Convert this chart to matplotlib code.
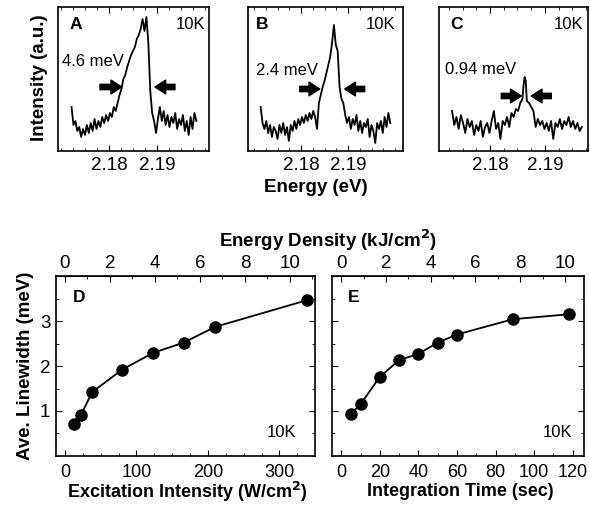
import matplotlib.pyplot as plt
from matplotlib.ticker import MultipleLocator

plt.rcParams['font.family'] = ['Liberation Sans', 'DejaVu Sans']

# --- spectra (energy in eV, intensity in arb. units) ---
energy_a = [2.1722, 2.1726, 2.1730, 2.1734, 2.1738, 2.1742, 2.1746, 2.1750, 2.1754, 2.1758,
            2.1762, 2.1766, 2.1770, 2.1774, 2.1778, 2.1782, 2.1786, 2.1790, 2.1794, 2.1798,
            2.1802, 2.1806, 2.1810, 2.1814, 2.1818, 2.1822, 2.1826, 2.1830, 2.1834, 2.1838,
            2.1842, 2.1846, 2.1850, 2.1854, 2.1858, 2.1862, 2.1866, 2.1870, 2.1874, 2.1878,
            2.1882, 2.1886, 2.1890, 2.1894, 2.1898, 2.1902, 2.1906, 2.1910, 2.1914, 2.1918,
            2.1922, 2.1926, 2.1930, 2.1934, 2.1938, 2.1942, 2.1946, 2.1950, 2.1954, 2.1958,
            2.1962, 2.1966, 2.1970, 2.1974, 2.1978, 2.1982]
counts_a = [44, 26, 30, 20, 24, 14, 22, 16, 26, 18,
            28, 20, 32, 22, 30, 24, 34, 28, 36, 30,
            38, 34, 44, 40, 48, 56, 62, 72, 76, 84,
            90, 96, 100, 104, 112, 116, 122, 132, 120, 134,
            108, 60, 38, 30, 18, 32, 44, 30, 40, 26,
            36, 24, 34, 28, 38, 22, 32, 26, 36, 20,
            30, 16, 34, 22, 38, 30]

energy_b = [2.1714, 2.1718, 2.1722, 2.1726, 2.1730, 2.1734, 2.1738, 2.1742, 2.1746, 2.1750,
            2.1754, 2.1758, 2.1762, 2.1766, 2.1770, 2.1774, 2.1778, 2.1782, 2.1786, 2.1790,
            2.1794, 2.1798, 2.1802, 2.1806, 2.1810, 2.1814, 2.1818, 2.1822, 2.1826, 2.1830,
            2.1834, 2.1838, 2.1842, 2.1846, 2.1850, 2.1854, 2.1858, 2.1862, 2.1866, 2.1870,
            2.1874, 2.1878, 2.1882, 2.1886, 2.1890, 2.1894, 2.1898, 2.1902, 2.1906, 2.1910,
            2.1914, 2.1918, 2.1922, 2.1926, 2.1930, 2.1934, 2.1938, 2.1942, 2.1946, 2.1950,
            2.1954, 2.1958, 2.1962, 2.1966, 2.1970, 2.1974, 2.1978, 2.1982, 2.1986, 2.1990]
counts_b = [44, 28, 22, 30, 18, 26, 14, 24, 20, 12,
            26, 18, 28, 16, 24, 10, 26, 20, 30, 22,
            32, 26, 34, 28, 36, 30, 38, 32, 40, 34,
            22, 48, 56, 64, 70, 78, 86, 94, 108, 126,
            106, 100, 64, 52, 48, 36, 28, 34, 22, 32,
            26, 36, 20, 30, 18, 28, 24, 32, 14, 26,
            20, 8, 28, 22, 30, 18, 34, 24, 38, 28]

energy_c = [2.1731, 2.1735, 2.1739, 2.1743, 2.1747, 2.1751, 2.1755, 2.1759, 2.1763, 2.1767,
            2.1771, 2.1775, 2.1779, 2.1783, 2.1787, 2.1791, 2.1795, 2.1799, 2.1803, 2.1807,
            2.1811, 2.1815, 2.1819, 2.1823, 2.1827, 2.1831, 2.1835, 2.1839, 2.1843, 2.1847,
            2.1851, 2.1855, 2.1859, 2.1861, 2.1863, 2.1865, 2.1867,
            2.1871, 2.1875, 2.1879, 2.1883, 2.1887, 2.1891, 2.1895, 2.1899, 2.1903, 2.1907,
            2.1911, 2.1915, 2.1919, 2.1923, 2.1927, 2.1931, 2.1935, 2.1939, 2.1943, 2.1947,
            2.1951, 2.1955, 2.1959, 2.1963, 2.1967]
counts_c = [40, 26, 34, 22, 36, 28, 18, 32, 24, 30,
            16, 26, 20, 30, 14, 24, 28, 18, 30, 40,
            22, 28, 12, 30, 26, 34, 24, 38, 34, 42,
            40, 48, 52, 66, 74, 70, 50,
            48, 44, 40, 24, 32, 26, 30, 22, 28, 20,
            30, 12, 28, 24, 32, 22, 30, 26, 34, 24,
            30, 22, 28, 20, 24]

fwhm_labels = ['4.6 meV', '2.4 meV', '0.94 meV']

# --- linewidth vs excitation / integration time ---
intensity_d = [12, 22, 38, 80, 123, 166, 210, 338]
linewidth_d = [0.70, 0.90, 1.42, 1.92, 2.29, 2.52, 2.87, 3.46]
time_e = [5, 10, 20, 30, 40, 50, 60, 89, 118]
linewidth_e = [0.94, 1.15, 1.76, 2.13, 2.27, 2.52, 2.70, 3.04, 3.15]

FS = 13.5

fig = plt.figure(figsize=(5.9, 5.07), dpi=100)

top_specs = [
    # rect, xlim, spectrum, letter, fwhm text pos, arrows (tail, head), arrow y, letter x, 10K x
    ([0.0983, 0.7022, 0.2559, 0.2840], (2.16938, 2.20083), energy_a, counts_a, 'A',
     (2.17015, 89), [(2.17813, 2.18265), (2.19375, 2.18958)], 64, 0.079, 0.973),
    ([0.4203, 0.7022, 0.2627, 0.2840], (2.1687, 2.2017), energy_b, counts_b, 'B',
     (2.17043, 80), [(2.17972, 2.18398), (2.19355, 2.18930)], 62, 0.052, 0.948),
    ([0.7441, 0.7022, 0.2525, 0.2840], (2.17073, 2.19782), energy_c, counts_c, 'C',
     (2.17176, 81), [(2.18205, 2.18569), (2.19115, 2.18751)], 55, 0.074, 0.966),
]

for i, (rect, xl, ex, cy, letter, tpos, arrows, ay, lx, kx) in enumerate(top_specs):
    ax = fig.add_axes(rect)
    ax.plot(ex, cy, color='k', lw=1.3)
    ax.set_xlim(*xl)
    ax.set_ylim(0, 144)
    ax.set_xticks([2.18, 2.19])
    ax.set_xticklabels(['2.18', '2.19'])
    ax.xaxis.set_minor_locator(MultipleLocator(0.0025))
    ax.set_yticks([])
    ax.tick_params(axis='x', which='both', direction='in', top=True, labelsize=FS, pad=4)
    ax.tick_params(axis='x', which='major', length=4)
    ax.tick_params(axis='x', which='minor', length=2)
    for s in ax.spines.values():
        s.set_linewidth(1.2)
    ax.text(lx, 0.875, letter, transform=ax.transAxes, fontsize=12.5, fontweight='bold',
            va='center', ha='left')
    ax.text(kx, 0.875, '10K', transform=ax.transAxes, fontsize=12, va='center', ha='right')
    ax.text(tpos[0], tpos[1], fwhm_labels[i], fontsize=12, va='center', ha='left')
    for tail, head in arrows:
        ax.annotate('', xy=(head, ay), xytext=(tail, ay),
                    arrowprops=dict(arrowstyle='simple,head_length=0.7,head_width=0.9,tail_width=0.35',
                                    color='k', shrinkA=0, shrinkB=0, mutation_scale=11))

fig.text(40 / 590, 1 - 78 / 507, 'Intensity (a.u.)', rotation=90, fontsize=FS,
         fontweight='bold', ha='center', va='center')
fig.text(316 / 590, 1 - 188 / 507, 'Energy (eV)', fontsize=FS, fontweight='bold',
         ha='center', va='center')

# panel D
axd = fig.add_axes([0.0949, 0.1006, 0.4390, 0.3550])
axd.plot(intensity_d, linewidth_d, '-o', color='k', lw=1.3, ms=8)
axd.set_xlim(-12.6, 349.7)
axd.set_ylim(0, 4)
axd.set_xticks([0, 100, 200, 300])
axd.xaxis.set_minor_locator(MultipleLocator(25))
axd.set_yticks([1, 2, 3])
axd.yaxis.set_minor_locator(MultipleLocator(0.5))
axd.set_ylabel('Ave. Linewidth (meV)', fontsize=FS, fontweight='bold', labelpad=4)
topd = axd.secondary_xaxis('top', functions=(lambda v: v * 10 / 314.7, lambda v: v * 314.7 / 10))
topd.set_xticks([0, 2, 4, 6, 8, 10])
topd.xaxis.set_minor_locator(MultipleLocator(1))

# panel E
axe = fig.add_axes([0.5627, 0.1006, 0.4271, 0.3550])
axe.plot(time_e, linewidth_e, '-o', color='k', lw=1.3, ms=8)
axe.set_xlim(-4.8, 125.8)
axe.set_ylim(0, 4)
axe.set_xticks([0, 20, 40, 60, 80, 100, 120])
axe.xaxis.set_minor_locator(MultipleLocator(10))
axe.set_yticks([1, 2, 3])
axe.set_yticklabels([])
axe.yaxis.set_minor_locator(MultipleLocator(0.5))
tope = axe.secondary_xaxis('top', functions=(lambda v: v * 10 / 115.9, lambda v: v * 115.9 / 10))
tope.set_xticks([0, 2, 4, 6, 8, 10])
tope.xaxis.set_minor_locator(MultipleLocator(1))

for ax, top, letter, lx, kx in [(axd, topd, 'D', 0.066, 0.93), (axe, tope, 'E', 0.062, 0.953)]:
    ax.tick_params(which='both', direction='in', right=True)
    ax.tick_params(axis='x', which='major', length=4, pad=6, labelsize=13)
    ax.tick_params(axis='y', which='major', length=4, pad=4, labelsize=FS)
    ax.tick_params(which='minor', length=2)
    top.tick_params(which='both', direction='in', labelsize=FS, pad=3)
    top.tick_params(which='major', length=4)
    top.tick_params(which='minor', length=2)
    for s in ax.spines.values():
        s.set_linewidth(1.2)
    ax.text(lx, 0.883, letter, transform=ax.transAxes, fontsize=12.5, fontweight='bold',
            va='center', ha='left')
    ax.text(kx, 0.133, '10K', transform=ax.transAxes, fontsize=12, va='center', ha='right')

fig.text(187 / 590, 1 - 492 / 507, 'Excitation Intensity (W/cm$^\\mathbf{2}$)', fontsize=13,
         fontweight='bold', ha='center', va='center')
fig.text(460 / 590, 1 - 492 / 507, 'Integration Time (sec)', fontsize=13,
         fontweight='bold', ha='center', va='center')
fig.text(328 / 590, 1 - 240 / 507, 'Energy Density (kJ/cm$^\\mathbf{2}$)', fontsize=FS,
         fontweight='bold', ha='center', va='center')

fig.savefig('out.png', dpi=100)
